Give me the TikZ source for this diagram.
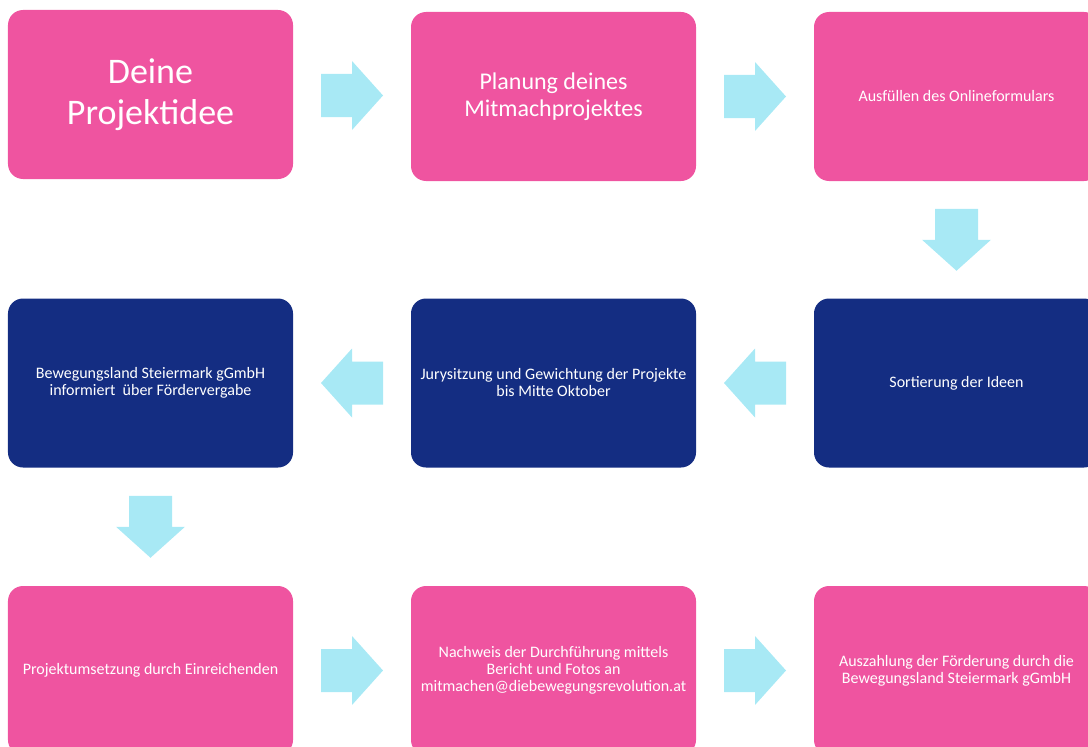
\documentclass[tikz,border=0pt]{standalone}
\usepackage{fontspec}
\setmainfont{Carlito}
\definecolor{pinkbox}{RGB}{239,84,160}
\definecolor{navybox}{RGB}{20,45,130}
\definecolor{cyanarrow}{RGB}{168,233,245}

\begin{document}
\begin{tikzpicture}[x=1bp,y=-1bp,
 stage/.style={rectangle,rounded corners=15bp,minimum width=285bp,minimum height=169bp,inner sep=0pt,text=white,align=center,font=\fontsize{16bp}{17bp}\selectfont},
 pinkstage/.style={stage,fill=pinkbox},
 navystage/.style={stage,fill=navybox},
 flow/.pic={\fill[cyanarrow] (-31,-21.5) -- (0,-21.5) -- (0,-34.5) -- (31,0) -- (0,34.5) -- (0,21.5) -- (-31,21.5) -- cycle;}]
 \useasboundingbox (0,0) rectangle (1088,747);

 % first row
 \node[pinkstage,font=\fontsize{36bp}{41bp}\selectfont] (idee) at (150.5,94.5) {Deine\\Projektidee};
 \node[pinkstage,font=\fontsize{24bp}{27bp}\selectfont] (planung) at (553.5,96.5) {Planung deines\\Mitmachprojektes};
 \node[pinkstage] (formular) at (956.5,96.5) {Ausfüllen des Onlineformulars};

 % second row
 \node[navystage] (sortierung) at (956.5,383) {Sortierung der Ideen};
 \node[navystage] (jury) at (553.5,383) {Jurysitzung und Gewichtung der Projekte\\bis Mitte Oktober};
 \node[navystage] (info) at (150.5,383) {Bewegungsland Steiermark gGmbH\\informiert~ über Fördervergabe};

 % third row
 \node[pinkstage] (umsetzung) at (150.5,670.5) {Projektumsetzung durch Einreichenden};
 \node[pinkstage] (nachweis) at (553.5,670.5) {Nachweis der Durchführung mittels\\Bericht und Fotos an\\mitmachen@diebewegungsrevolution.at};
 \node[pinkstage] (auszahlung) at (956.5,670.5) {Auszahlung der Förderung durch die\\Bewegungsland Steiermark gGmbH};

 \path (idee.east) -- (planung.west) pic[midway] {flow};
 \path (planung.east) -- (formular.west) pic[midway] {flow};
 \path (formular.south) -- (sortierung.north) pic[midway,rotate=-90] {flow};
 \path (sortierung.west) -- (jury.east) pic[midway,rotate=180] {flow};
 \path (jury.west) -- (info.east) pic[midway,rotate=180] {flow};
 \path (info.south) -- (umsetzung.north) pic[midway,rotate=-90] {flow};
 \path (umsetzung.east) -- (nachweis.west) pic[midway] {flow};
 \path (nachweis.east) -- (auszahlung.west) pic[midway] {flow};
\end{tikzpicture}
\end{document}
